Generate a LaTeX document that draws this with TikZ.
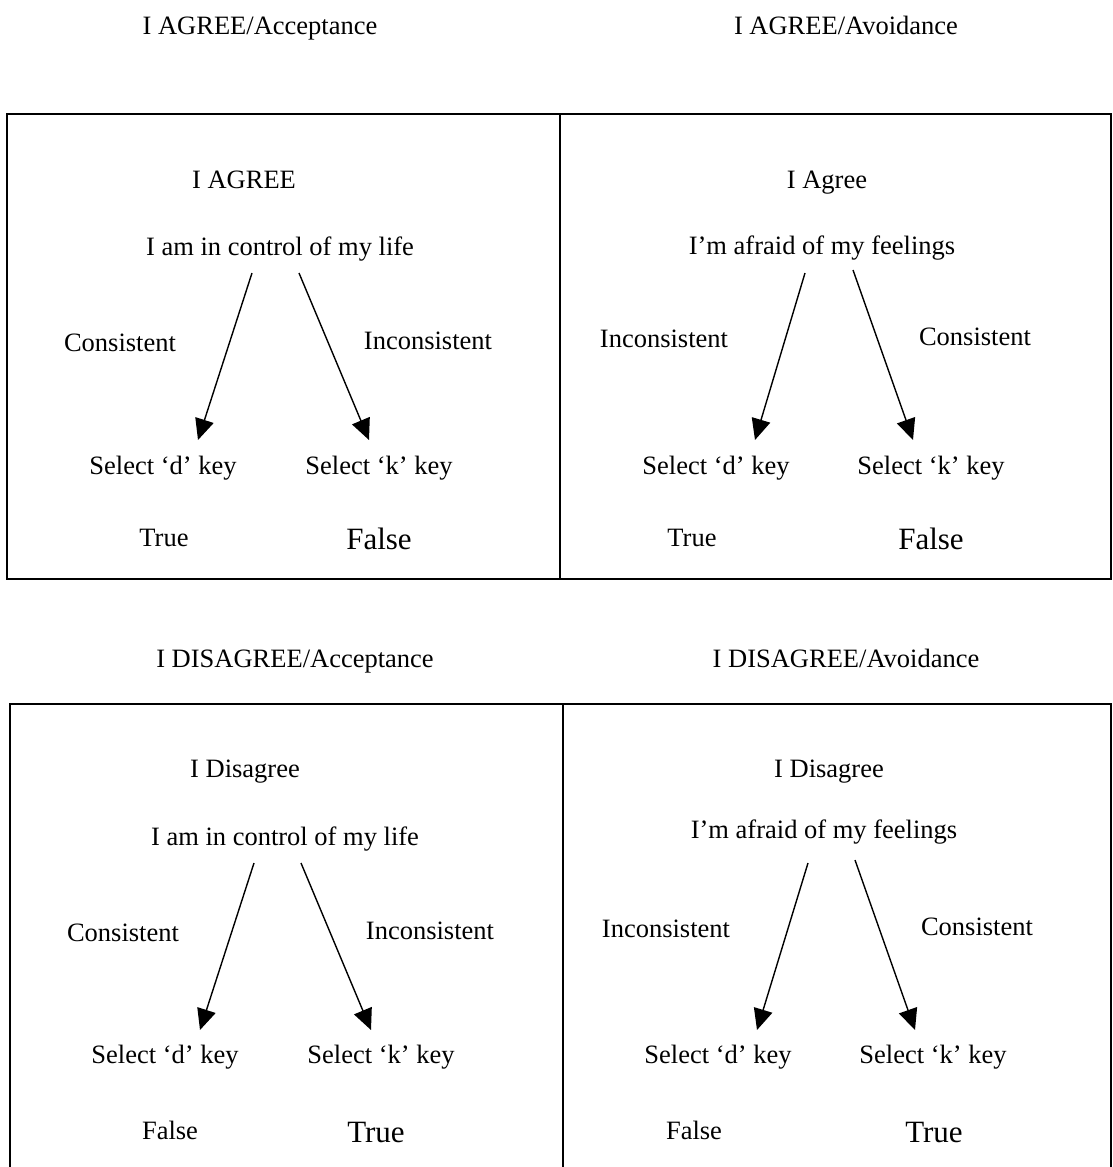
\documentclass[tikz,border=0pt]{standalone}
\usepackage{fontspec}
\setmainfont{Liberation Serif}
\usetikzlibrary{arrows.meta}
\begin{document}
\begin{tikzpicture}[x=1pt,y=-1pt,
  txt/.style={inner sep=0pt,anchor=base,font=\fontsize{26.5}{30}\selectfont},
  big/.style={inner sep=0pt,anchor=base,font=\fontsize{31}{35}\selectfont},
  frame/.style={line width=2pt},
  pointer/.style={line width=1.4pt,-{Triangle[length=21pt,width=19pt]}}]
\useasboundingbox (0,0) rectangle (1112,1167);
\fill[white] (0,0) rectangle (1112,1167);

% ---- headings ----
\node[txt] (h1) at (260,34) {I AGREE/Acceptance};
\node[txt] (h2) at (846,34) {I AGREE/Avoidance};
\node[txt] (h3) at (295,667) {I DISAGREE/Acceptance};
\node[txt] (h4) at (846,667) {I DISAGREE/Avoidance};

% ---- frames ----
\draw[frame] (7,114) rectangle (1111,579);
\draw[frame] (560,114) -- (560,579);
\draw[frame] (10,1167) -- (10,704) -- (1111,704) -- (1111,1167);
\draw[frame] (563,704) -- (563,1167);

% ---- top left: agree / acceptance ----
\node[txt] (tl-t) at (244,188) {I AGREE};
\node[txt] (tl-s) at (280,255) {I am in control of my life};
\node[txt] (tl-c) at (120,351) {Consistent};
\node[txt] (tl-i) at (428,349) {Inconsistent};
\node[txt] (tl-d) at (163,474) {Select ‘d’ key};
\node[txt] (tl-k) at (379,474) {Select ‘k’ key};
\node[txt] (tl-r1) at (164,546) {True};
\node[big] (tl-r2) at (379,549) {False};
\coordinate (tl-a1) at (252,273); \coordinate (tl-b1) at (198,440);
\coordinate (tl-a2) at (299,273); \coordinate (tl-b2) at (369,440);
\draw[pointer] (tl-a1) -- (tl-b1);
\draw[pointer] (tl-a2) -- (tl-b2);

% ---- top right: agree / avoidance ----
\node[txt] (tr-t) at (827,188) {I Agree};
\node[txt] (tr-s) at (822,254) {I’m afraid of my feelings};
\node[txt] (tr-i) at (664,347) {Inconsistent};
\node[txt] (tr-c) at (975,345) {Consistent};
\node[txt] (tr-d) at (716,474) {Select ‘d’ key};
\node[txt] (tr-k) at (931,474) {Select ‘k’ key};
\node[txt] (tr-r1) at (692,546) {True};
\node[big] (tr-r2) at (931,549) {False};
\coordinate (tr-a1) at (805,273); \coordinate (tr-b1) at (755,440);
\coordinate (tr-a2) at (853,270); \coordinate (tr-b2) at (913,440);
\draw[pointer] (tr-a1) -- (tr-b1);
\draw[pointer] (tr-a2) -- (tr-b2);

% ---- bottom left: disagree / acceptance ----
\node[txt] (bl-t) at (245,777) {I Disagree};
\node[txt] (bl-s) at (285,845) {I am in control of my life};
\node[txt] (bl-c) at (123,941) {Consistent};
\node[txt] (bl-i) at (430,939) {Inconsistent};
\node[txt] (bl-d) at (165,1063) {Select ‘d’ key};
\node[txt] (bl-k) at (381,1063) {Select ‘k’ key};
\node[txt] (bl-r1) at (170,1139) {False};
\node[big] (bl-r2) at (376,1142) {True};
\coordinate (bl-a1) at (254,863); \coordinate (bl-b1) at (200,1030);
\coordinate (bl-a2) at (301,863); \coordinate (bl-b2) at (371,1030);
\draw[pointer] (bl-a1) -- (bl-b1);
\draw[pointer] (bl-a2) -- (bl-b2);

% ---- bottom right: disagree / avoidance ----
\node[txt] (br-t) at (829,777) {I Disagree};
\node[txt] (br-s) at (824,838) {I’m afraid of my feelings};
\node[txt] (br-i) at (666,937) {Inconsistent};
\node[txt] (br-c) at (977,935) {Consistent};
\node[txt] (br-d) at (718,1063) {Select ‘d’ key};
\node[txt] (br-k) at (933,1063) {Select ‘k’ key};
\node[txt] (br-r1) at (694,1139) {False};
\node[big] (br-r2) at (934,1142) {True};
\coordinate (br-a1) at (808,863); \coordinate (br-b1) at (757,1030);
\coordinate (br-a2) at (855,860); \coordinate (br-b2) at (915,1030);
\draw[pointer] (br-a1) -- (br-b1);
\draw[pointer] (br-a2) -- (br-b2);
\end{tikzpicture}
\end{document}
